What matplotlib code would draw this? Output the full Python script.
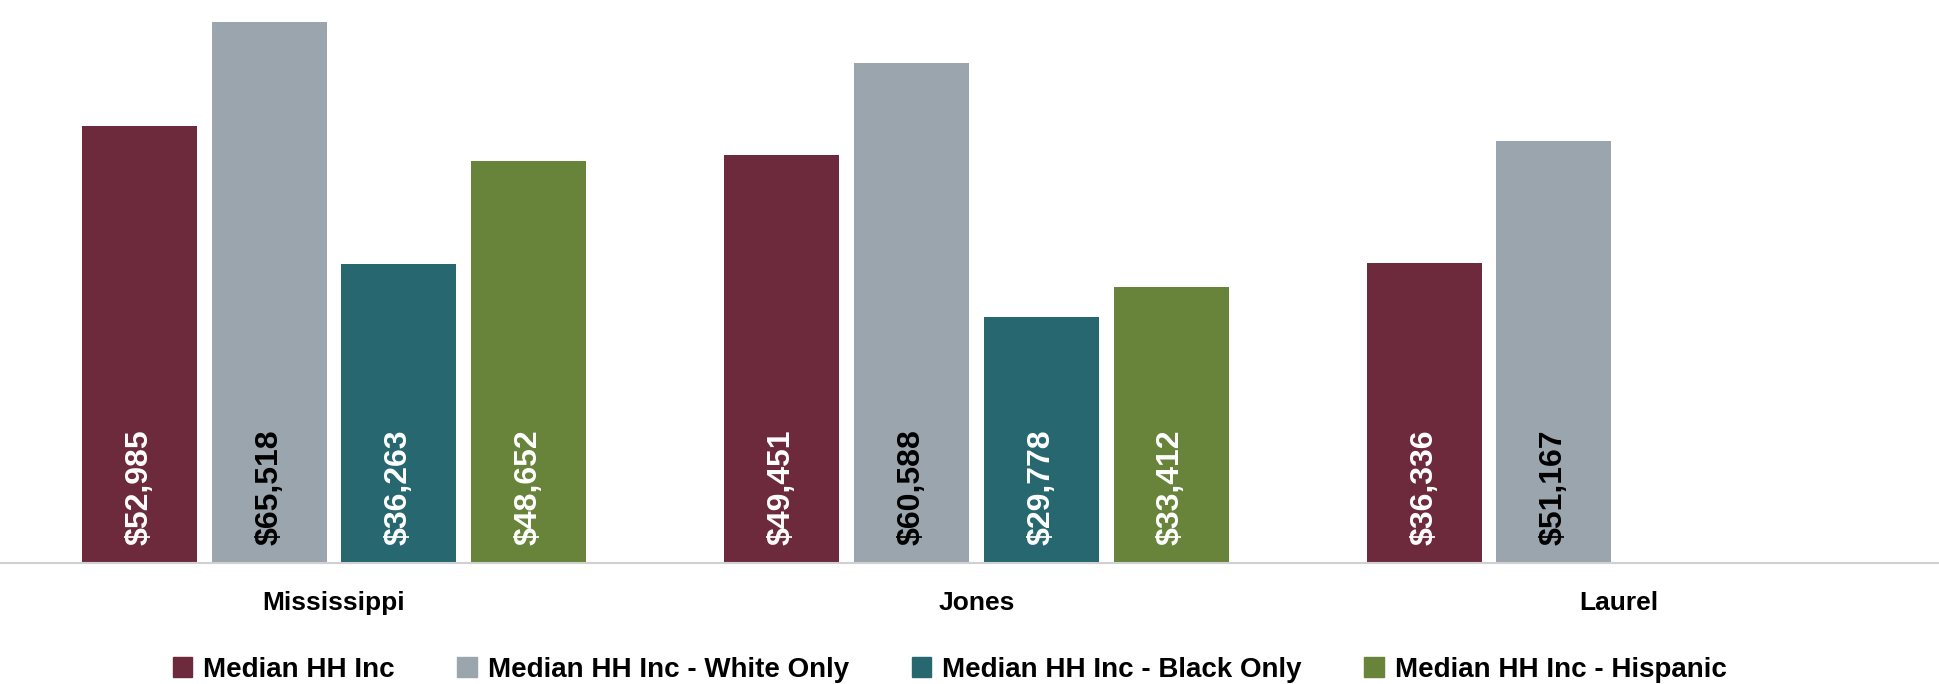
import numpy as np
import matplotlib
matplotlib.use("Agg")
import matplotlib.pyplot as plt
from matplotlib.patches import Patch

plt.rcParams['font.family'] = ['Liberation Sans', 'DejaVu Sans']

places = ['Mississippi', 'Jones', 'Laurel']
series = ['Median HH Inc', 'Median HH Inc - White Only',
          'Median HH Inc - Black Only', 'Median HH Inc - Hispanic']
values = [
    [52985, 49451, 36336],
    [65518, 60588, 51167],
    [36263, 29778, None],
    [48652, 33412, None],
]
colors = ['#6D2A3C', '#9BA5AE', '#266770', '#68833A']
label_colors = ['white', 'black', 'white', 'white']

fig = plt.figure(figsize=(19.4, 6.84), dpi=100)
ax = fig.add_axes([0, 0.177, 1, 0.823])

x = np.arange(len(places))
step = 0.202
width = 0.179
for i, (name, vals) in enumerate(zip(series, values)):
    for j, v in enumerate(vals):
        if v is None:
            continue
        xpos = x[j] + (i - 1.5) * step
        ax.bar(xpos, v, width, color=colors[i])
        ax.text(xpos, 2200, f'${v:,}', rotation=90, ha='center', va='bottom',
                color=label_colors[i], fontsize=23, fontweight='bold')

ax.set_xlim(-0.52, 2.5)
ax.set_ylim(0, 68200)
ax.set_yticks([])
ax.set_xticks(x)
ax.set_xticklabels(places, fontsize=19, fontweight='bold')
ax.tick_params(axis='x', length=0, pad=20)
for s in ['top', 'right', 'left']:
    ax.spines[s].set_visible(False)
ax.spines['bottom'].set_color('#D0D0D0')
ax.spines['bottom'].set_linewidth(1.5)

handles = [Patch(color=c, label=s) for c, s in zip(colors, series)]
fig.legend(handles=handles, loc='lower center', ncol=4, frameon=False,
           bbox_to_anchor=(0.4895, -0.035), prop={'size': 20, 'weight': 'bold'},
           handlelength=0.7, handleheight=0.7, columnspacing=2.25, handletextpad=0.4)

fig.savefig('out.png', dpi=100)
